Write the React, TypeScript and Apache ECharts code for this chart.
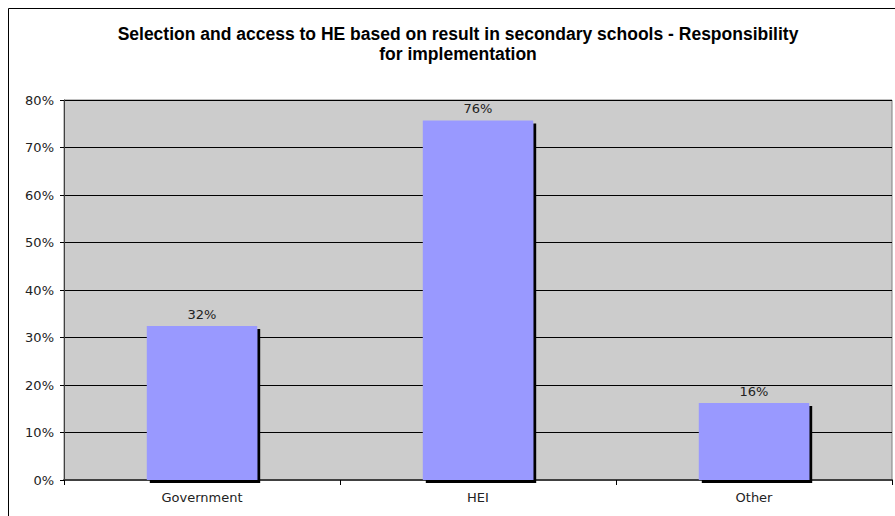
import React, { useEffect, useRef } from "react";
import * as echarts from "echarts";

const categories = ["Government", "HEI", "Other"];
const values = [32.4, 75.7, 16.2];
const yTicks = [0, 10, 20, 30, 40, 50, 60, 70, 80];
const title = "Selection and access to HE based on result in secondary schools - Responsibility\nfor implementation";

export default function App() {
  const ref = useRef<HTMLDivElement>(null);
  useEffect(() => {
    if (!ref.current) return;
    const chart = echarts.init(ref.current, null, { renderer: "svg" });
    chart.setOption({
      animation: false,
      backgroundColor: "#ffffff",
      title: {
        text: title,
        left: 453,
        top: 19,
        textAlign: "center",
        textStyle: {
          fontFamily: "Liberation Sans, Arial, sans-serif",
          fontWeight: "bold",
          fontSize: 17.5,
          lineHeight: 20,
          color: "#000000",
        },
      },
      graphic: [
        {
          type: "rect",
          shape: { x: 8.5, y: 8.5, width: 900, height: 600 },
          style: { fill: "none", stroke: "#000000", lineWidth: 1 },
          silent: true,
          z: -1,
        },
      ],
      grid: {
        left: 64,
        top: 100,
        right: 3,
        bottom: 36,
        show: true,
        backgroundColor: "#cccccc",
        borderColor: "#808080",
        borderWidth: 1,
      },
      xAxis: {
        type: "category",
        data: categories,
        axisLine: { show: true, lineStyle: { color: "#404040", width: 2 } },
        axisTick: { show: true, length: 5, alignWithLabel: false, lineStyle: { color: "#000000" } },
        axisLabel: {
          fontFamily: "DejaVu Sans, Verdana, sans-serif",
          fontSize: 13,
          color: "#222222",
          margin: 11,
        },
        splitLine: { show: false },
      },
      yAxis: {
        type: "value",
        min: yTicks[0],
        max: yTicks[yTicks.length - 1],
        interval: 10,
        axisLine: { show: true, lineStyle: { color: "#404040", width: 1 } },
        axisTick: { show: true, length: 4, inside: false, lineStyle: { color: "#000000" } },
        axisLabel: {
          formatter: (v: number) => v + "%",
          fontFamily: "DejaVu Sans, Verdana, sans-serif",
          fontSize: 13,
          color: "#222222",
          margin: 10,
        },
        splitLine: { show: true, lineStyle: { color: "#000000", width: 1 } },
      },
      series: [
        {
          type: "bar",
          data: values,
          barWidth: "40%",
          itemStyle: {
            color: "#9999ff",
            shadowColor: "#000000",
            shadowOffsetX: 3,
            shadowOffsetY: 3,
            shadowBlur: 0,
          },
          label: {
            show: true,
            position: "top",
            distance: 5,
            formatter: (p: any) => Math.round(p.value) + "%",
            fontFamily: "DejaVu Sans, Verdana, sans-serif",
            fontSize: 13,
            color: "#222222",
          },
        },
      ],
    });
    return () => chart.dispose();
  }, []);
  return (
    <div
      ref={ref}
      style={{ position: "absolute", left: 0, top: 0, width: 895, height: 516 }}
    />
  );
}
